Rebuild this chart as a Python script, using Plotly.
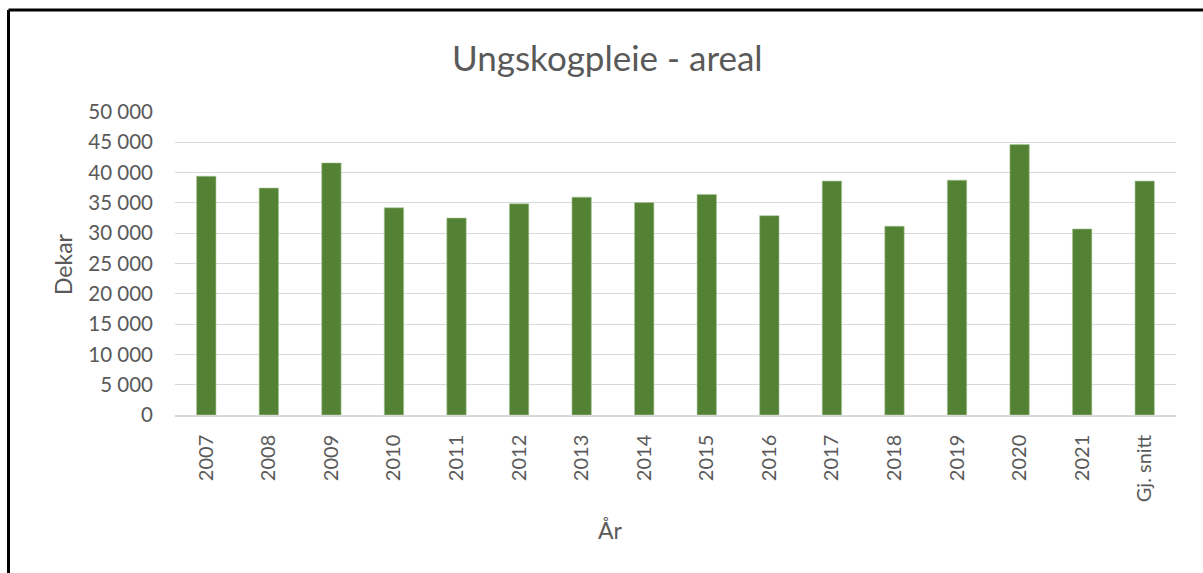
import plotly.graph_objects as go

categories = ["2007", "2008", "2009", "2010", "2011", "2012", "2013", "2014",
              "2015", "2016", "2017", "2018", "2019", "2020", "2021", "Gj. snitt"]
areal = [39400, 37450, 41600, 34200, 32500, 34850, 35950, 35050,
         36400, 32900, 38600, 31150, 38750, 44650, 30700, 38600]
y_ticks = [0, 5000, 10000, 15000, 20000, 25000, 30000, 35000, 40000, 45000, 50000]

FONT = "Lato, 'Open Sans', sans-serif"
GRAY = "#595959"

fig = go.Figure(go.Bar(
    x=categories, y=areal,
    marker=dict(color="#548235", line=dict(color="#a9c79a", width=0.6)),
    width=0.31,
))

W, H = 1203, 573
L, R, T, B = 175, 27, 112, 158
pw, ph = W - L - R, H - T - B

def px_to_paper_x(px):
    return (px - L) / pw

def py_to_paper_y(py):
    return (H - B - py) / ph

fig.update_layout(
    width=W, height=H,
    margin=dict(l=L, r=R, t=T, b=B, autoexpand=False),
    paper_bgcolor="white", plot_bgcolor="white",
    separators=", ",
    font=dict(family=FONT, color=GRAY, size=20),
    showlegend=False,
    xaxis=dict(
        type="category", tickangle=-90,
        tickfont=dict(size=20, color=GRAY),
        showline=True, linecolor="#d9d9d9", linewidth=1.5,
        ticks="", showgrid=False, ticklabelstandoff=10,
    ),
    yaxis=dict(
        range=[0, 50000], tickvals=y_ticks, tickformat=",d",
        tickfont=dict(size=20.5, color=GRAY),
        showgrid=True, gridcolor="#d9d9d9", gridwidth=1,
        zeroline=False, showline=False, ticks="",
        ticklabelstandoff=21,
    ),
    annotations=[
        dict(text="Ungskogpleie - areal", xref="paper", yref="paper",
             x=px_to_paper_x(607), y=py_to_paper_y(57),
             xanchor="center", yanchor="middle", showarrow=False,
             font=dict(size=35, color=GRAY, family=FONT)),
        dict(text="Dekar", xref="paper", yref="paper",
             x=px_to_paper_x(63), y=py_to_paper_y(264),
             xanchor="center", yanchor="middle", showarrow=False, textangle=-90,
             font=dict(size=23, color=GRAY, family=FONT)),
        dict(text="År", xref="paper", yref="paper",
             x=px_to_paper_x(610), y=py_to_paper_y(530),
             xanchor="center", yanchor="middle", showarrow=False,
             font=dict(size=23, color=GRAY, family=FONT)),
    ],
    shapes=[
        dict(type="line", xref="paper", yref="paper",
             x0=px_to_paper_x(8.5), x1=px_to_paper_x(1210),
             y0=py_to_paper_y(10), y1=py_to_paper_y(10),
             line=dict(color="black", width=3)),
        dict(type="line", xref="paper", yref="paper",
             x0=px_to_paper_x(8.5), x1=px_to_paper_x(8.5),
             y0=py_to_paper_y(10), y1=py_to_paper_y(580),
             line=dict(color="black", width=3)),
    ],
)

fig.write_html("out.html", config={"displayModeBar": False},
               post_script="document.body.style.margin='0';")
